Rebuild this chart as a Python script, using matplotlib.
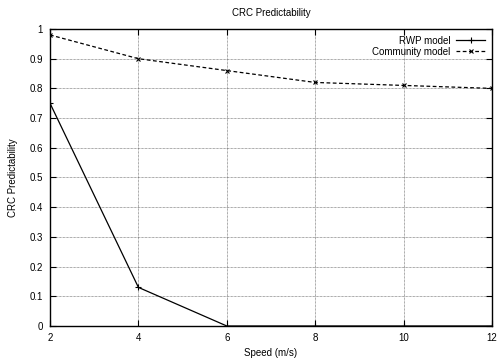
import matplotlib
matplotlib.use('Agg')
import matplotlib.pyplot as plt

# Data
speeds = [2, 4, 6, 8, 10, 12]
rwp = [0.75, 0.13, 0.0, 0.0, 0.0, 0.0]
community = [0.98, 0.90, 0.86, 0.82, 0.81, 0.80]
xticks = [2, 4, 6, 8, 10, 12]
yticks = [0, 0.1, 0.2, 0.3, 0.4, 0.5, 0.6, 0.7, 0.8, 0.9, 1]
ytick_labels = ['0', '0.1', '0.2', '0.3', '0.4', '0.5', '0.6', '0.7', '0.8', '0.9', '1']

plt.rcParams['font.family'] = ['Liberation Sans', 'DejaVu Sans']
plt.rcParams['font.size'] = 7

fig = plt.figure(figsize=(4.98, 3.58), dpi=100)
ax = fig.add_axes([0.1004, 0.0894, 0.8876, 0.8296])

ax.plot(speeds, rwp, '-', color='black', lw=0.9, marker='+', ms=4, mew=0.8, label='RWP model')
ax.plot(speeds, community, '--', color='black', lw=0.9, marker='x', ms=3.5, mew=0.8,
        dashes=(3, 2), label='Community model')

ax.set_xlim(2, 12)
ax.set_ylim(0, 1)
ax.set_xticks(xticks)
ax.set_yticks(yticks)
ax.set_yticklabels(ytick_labels)
ax.tick_params(direction='in', top=True, right=True, length=4, width=0.8, pad=5)
ax.grid(True, linestyle=(0, (1, 1)), color='0.35', lw=0.5)
for s in ax.spines.values():
    s.set_linewidth(1.0)

ax.set_xlabel('Speed (m/s)', labelpad=4)
ax.set_ylabel('CRC Predictability', labelpad=8)
ax.set_title('CRC Predictability', fontsize=7, pad=9)

leg = ax.legend(loc='upper right', frameon=False, markerfirst=False, handlelength=3,
                borderaxespad=0.3, labelspacing=0.1, handletextpad=0.6)

fig.savefig('out.png', dpi=100)
